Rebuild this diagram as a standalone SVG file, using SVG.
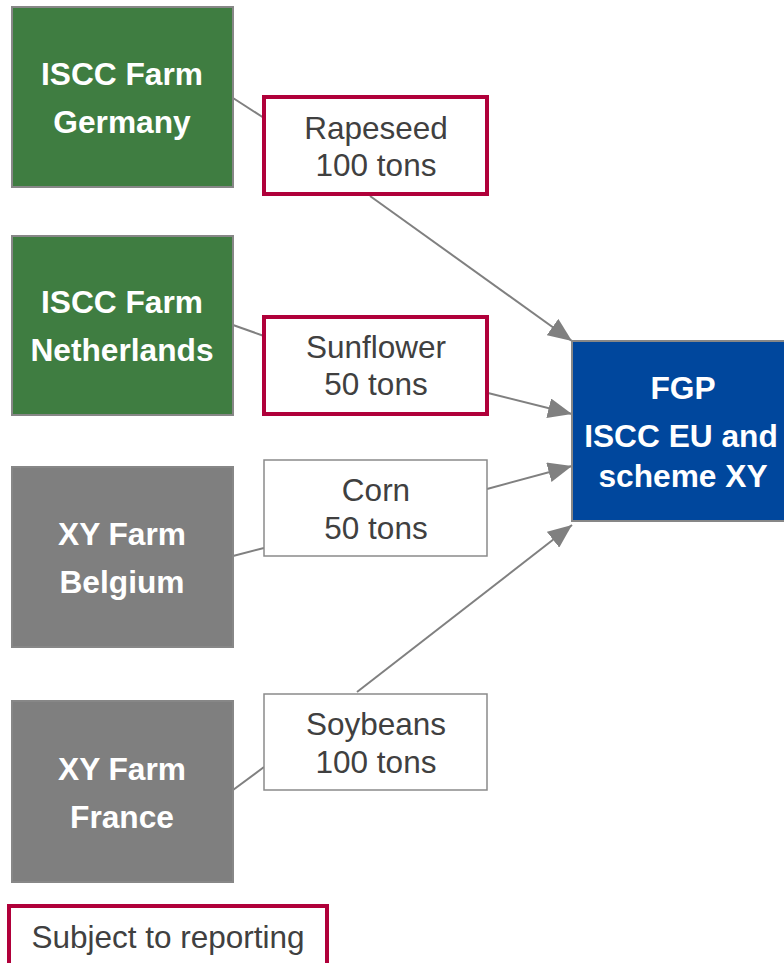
<svg xmlns="http://www.w3.org/2000/svg" width="784" height="963" viewBox="0 0 784 963">
<defs>
<style>
.farm-g{fill:#3f7d41;stroke:#878787;stroke-width:2}
.farm-x{fill:#7f7f7f;stroke:#878787;stroke-width:2}
.ft{font-family:"Liberation Sans",Arial,sans-serif;font-weight:bold;font-size:31.7px;fill:#ffffff;text-anchor:middle}
.pr{fill:#ffffff;stroke:#b0003a;stroke-width:4}
.pg{fill:#ffffff;stroke:#8a8a8a;stroke-width:1.5}
.pt{font-family:"Liberation Sans",Arial,sans-serif;font-size:31.5px;fill:#404040;text-anchor:middle}
.fgp{fill:#00479d;stroke:#878787;stroke-width:2}
.ln{stroke:#808080;stroke-width:2;fill:none}
</style>
<marker id="ahb" viewBox="0 0 24 20" refX="24" refY="10" markerWidth="24" markerHeight="20" markerUnits="userSpaceOnUse" orient="auto">
<path d="M0,0 L24,10 L0,20 z" fill="#808080"/>
</marker>
</defs>
<rect width="784" height="963" fill="#ffffff"/>
<g id="connectors">
<line class="ln" x1="233" y1="98" x2="264" y2="118"/>
<line class="ln" x1="370" y1="196" x2="572" y2="341" marker-end="url(#ahb)"/>
<line class="ln" x1="233" y1="325" x2="264" y2="336"/>
<line class="ln" x1="488" y1="393" x2="572" y2="414" marker-end="url(#ahb)"/>
<line class="ln" x1="487" y1="489" x2="572" y2="466" marker-end="url(#ahb)"/>
<line class="ln" x1="233" y1="556" x2="264" y2="548"/>
<line class="ln" x1="233" y1="790" x2="264" y2="767"/>
<line class="ln" x1="357" y1="692" x2="572" y2="525" marker-end="url(#ahb)"/>
</g>
<g id="farm-germany">
<rect class="farm-g" x="12" y="7" width="221" height="180"/>
<text class="ft" x="122" y="85">ISCC Farm</text>
<text class="ft" x="122" y="133">Germany</text>
</g>
<g id="farm-netherlands">
<rect class="farm-g" x="12" y="236" width="221" height="179"/>
<text class="ft" x="122" y="313">ISCC Farm</text>
<text class="ft" x="122" y="361">Netherlands</text>
</g>
<g id="farm-belgium">
<rect class="farm-x" x="12" y="467" width="221" height="180"/>
<text class="ft" x="122" y="545">XY Farm</text>
<text class="ft" x="122" y="593">Belgium</text>
</g>
<g id="farm-france">
<rect class="farm-x" x="12" y="701" width="221" height="181"/>
<text class="ft" x="122" y="780">XY Farm</text>
<text class="ft" x="122" y="828">France</text>
</g>
<g id="rapeseed">
<rect class="pr" x="264" y="97" width="223" height="97"/>
<text class="pt" x="376" y="139">Rapeseed</text>
<text class="pt" x="376" y="176">100 tons</text>
</g>
<g id="sunflower">
<rect class="pr" x="264" y="317" width="223" height="97"/>
<text class="pt" x="376" y="358">Sunflower</text>
<text class="pt" x="376" y="395">50 tons</text>
</g>
<g id="corn">
<rect class="pg" x="264" y="460" width="223" height="96"/>
<text class="pt" x="376" y="501">Corn</text>
<text class="pt" x="376" y="539">50 tons</text>
</g>
<g id="soybeans">
<rect class="pg" x="264" y="694" width="223" height="96"/>
<text class="pt" x="376" y="735">Soybeans</text>
<text class="pt" x="376" y="773">100 tons</text>
</g>
<g id="fgp">
<rect class="fgp" x="572" y="341" width="220" height="180"/>
<text class="ft" x="683" y="399">FGP</text>
<text class="ft" x="681" y="447">ISCC EU and</text>
<text class="ft" x="683" y="487">scheme XY</text>
</g>
<g id="legend">
<rect class="pr" x="9" y="906" width="318" height="70"/>
<text class="pt" x="168" y="948">Subject to reporting</text>
</g>
</svg>
